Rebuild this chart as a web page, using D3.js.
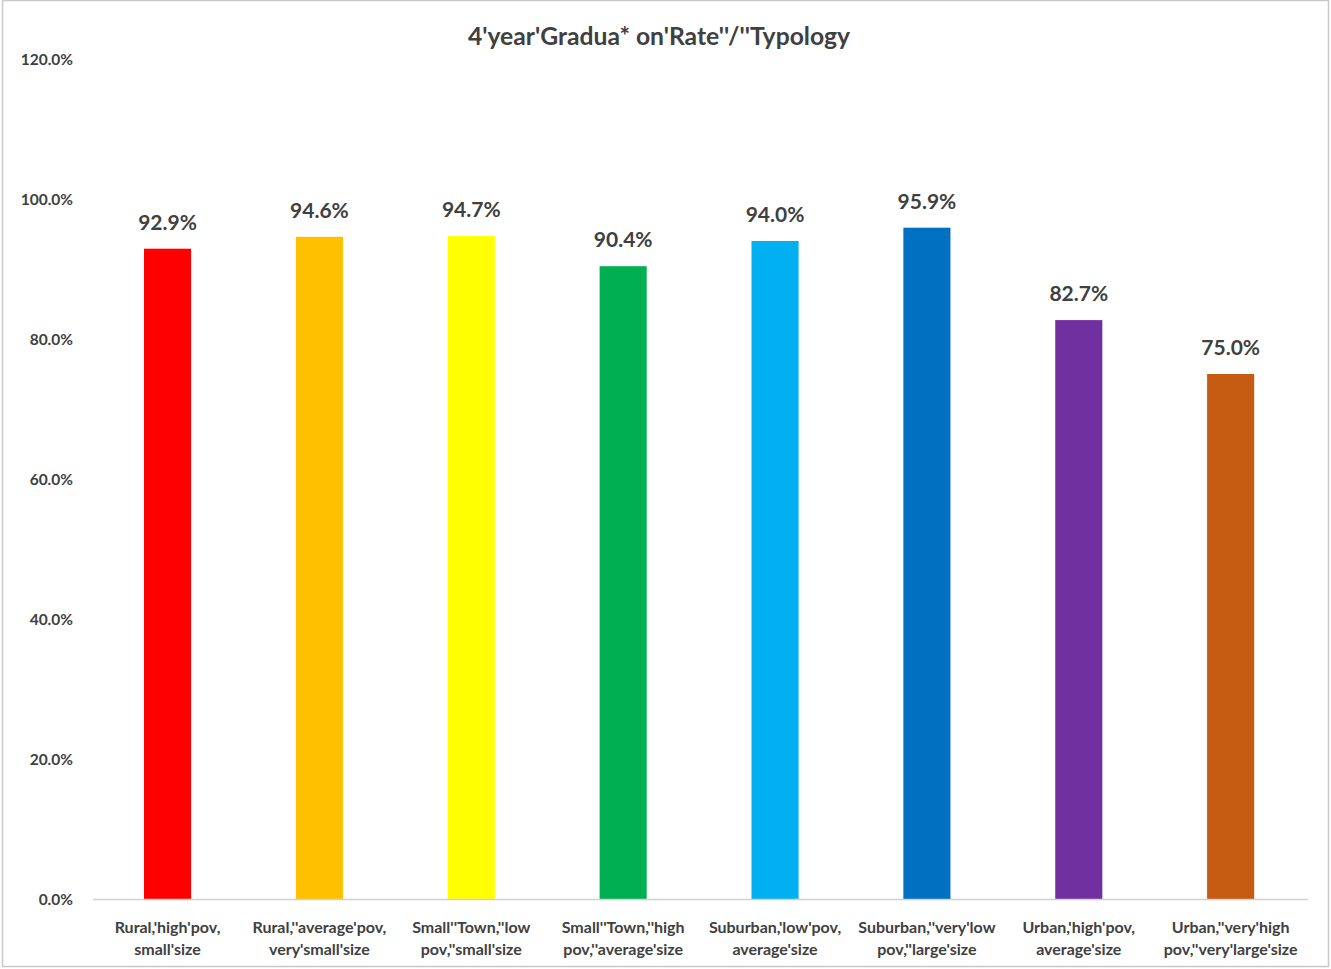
<!DOCTYPE html>
<html>
<head>
<meta charset="utf-8">
<script src="https://cdn.jsdelivr.net/npm/d3@7"></script>
<style>
  html, body { margin: 0; padding: 0; background: #fff; }
  svg { display: block; font-family: Lato, "Open Sans", "Liberation Sans", sans-serif; }
</style>
</head>
<body>
<svg id="chart" width="1331" height="969"></svg>
<script>
// Graduation rate by district typology
const titleText = "4'year'Gradua* on'Rate''/''Typology";
const categories = [
  ["Rural,'high'pov,", "small'size"],
  ["Rural,''average'pov,", "very'small'size"],
  ["Small''Town,''low", "pov,''small'size"],
  ["Small''Town,''high", "pov,''average'size"],
  ["Suburban,'low'pov,", "average'size"],
  ["Suburban,''very'low", "pov,''large'size"],
  ["Urban,'high'pov,", "average'size"],
  ["Urban,''very'high", "pov,''very'large'size"]
];
const rates = [92.9, 94.6, 94.7, 90.4, 94.0, 95.9, 82.7, 75.0];
const barColors = ["#FF0000", "#FFC000", "#FFFF00", "#00B050", "#00B0F0", "#0070C0", "#7030A0", "#C55A11"];
const yTicks = [0, 20, 40, 60, 80, 100, 120];

const svg = d3.select("#chart");
const textColor = "#404040";

// outer frame
svg.append("rect")
  .attr("x", 2.5).attr("y", 0.5)
  .attr("width", 1326).attr("height", 966)
  .attr("fill", "none").attr("stroke", "#c8c8c8").attr("stroke-width", 1.5);

const plot = { left: 93, right: 1308, top: 59, bottom: 899 };

const x = d3.scaleBand()
  .domain(d3.range(categories.length))
  .range([plot.left - 1.4, plot.right - 1.4])
  .paddingInner(0.69)
  .paddingOuter(0.345);

const y = d3.scaleLinear().domain([0, 120]).range([plot.bottom, plot.top]);

// title
svg.append("text")
  .attr("x", 659).attr("y", 45)
  .attr("text-anchor", "middle")
  .attr("font-size", 24.7).attr("font-weight", "bold")
  .attr("fill", textColor)
  .text(titleText);

// y axis labels (no axis line)
const yAxis = d3.axisLeft(y).tickValues(yTicks).tickSize(0).tickPadding(0)
  .tickFormat(d => d3.format(".1f")(d) + "%");
const yg = svg.append("g").attr("transform", `translate(73,0.8)`).call(yAxis);
yg.select(".domain").remove();
yg.selectAll("text")
  .attr("font-size", 15.5).attr("font-weight", "bold")
  .attr("fill", textColor)
  .attr("font-family", "Lato, 'Open Sans', sans-serif");

// bars
svg.append("g").selectAll("rect")
  .data(rates)
  .join("rect")
  .attr("x", (d, i) => x(i))
  .attr("y", d => y(d))
  .attr("width", x.bandwidth())
  .attr("height", d => y(0) - y(d))
  .attr("fill", (d, i) => barColors[i]);

// baseline
svg.append("line")
  .attr("x1", plot.left).attr("x2", plot.right)
  .attr("y1", plot.bottom + 0.5).attr("y2", plot.bottom + 0.5)
  .attr("stroke", "#d0d0d0").attr("stroke-width", 1.5);

// value labels
svg.append("g").selectAll("text")
  .data(rates)
  .join("text")
  .attr("x", (d, i) => x(i) + x.bandwidth() / 2)
  .attr("y", d => y(d) - 19)
  .attr("text-anchor", "middle")
  .attr("font-size", 21).attr("font-weight", "bold")
  .attr("fill", textColor)
  .text(d => d3.format(".1f")(d) + "%");

// category labels
const xg = svg.append("g");
categories.forEach((lines, i) => {
  const t = xg.append("text")
    .attr("x", x(i) + x.bandwidth() / 2)
    .attr("y", 933)
    .attr("text-anchor", "middle")
    .attr("font-size", 16).attr("font-weight", "bold")
    .attr("fill", textColor);
  lines.forEach((ln, k) => {
    t.append("tspan")
      .attr("x", x(i) + x.bandwidth() / 2)
      .attr("dy", k === 0 ? 0 : 22)
      .text(ln);
  });
});
</script>
</body>
</html>
